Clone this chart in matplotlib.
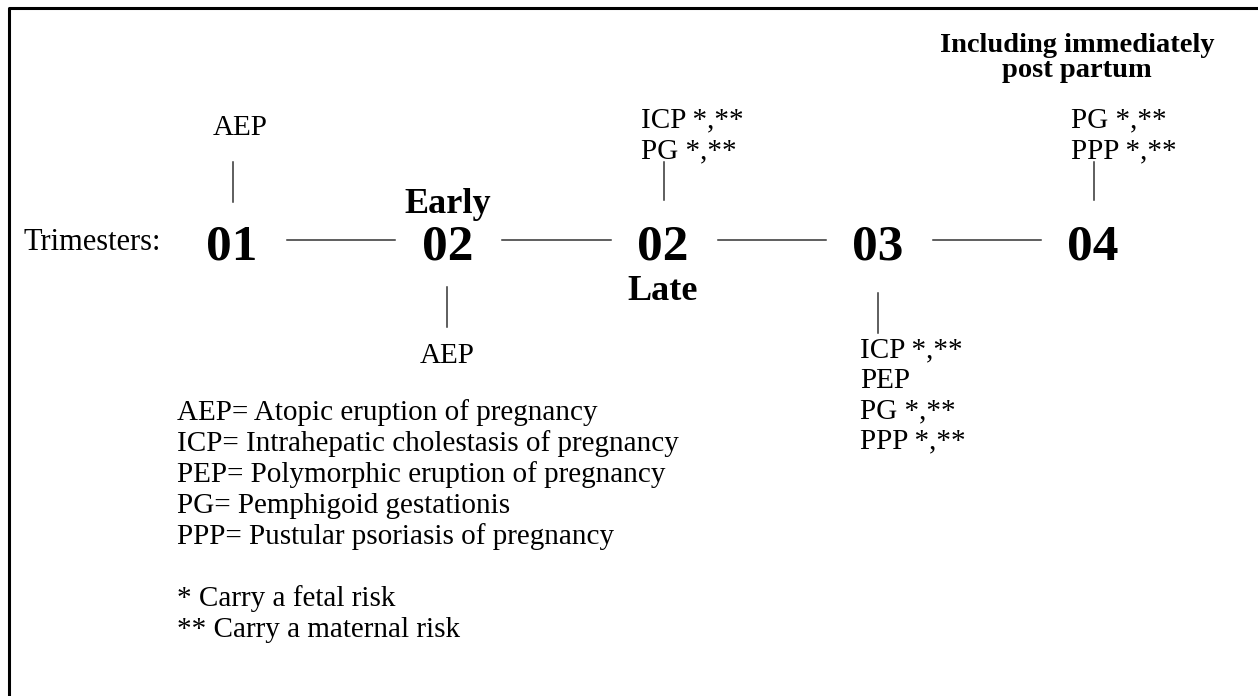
import matplotlib.pyplot as plt

plt.rcParams['font.family'] = ['Liberation Serif', 'DejaVu Serif']

# timeline nodes
nodes = ['01', '02', '02', '03', '04']
node_notes = ['', 'Early', 'Late', '', '']   # bold note above / below the node
above = [['AEP'], [], ['ICP *,**', 'PG *,**'], [], ['PG *,**', 'PPP *,**']]
below = [[], ['AEP'], [], ['ICP *,**', 'PEP', 'PG *,**', 'PPP *,**'], []]
header = ['Including immediately', 'post partum']

legend = ['AEP= Atopic eruption of pregnancy',
          'ICP= Intrahepatic cholestasis of pregnancy',
          'PEP= Polymorphic eruption of pregnancy',
          'PG= Pemphigoid gestationis',
          'PPP= Pustular psoriasis of pregnancy',
          '',
          '* Carry a fetal risk',
          '** Carry a maternal risk']

W, H = 1258, 696
fig = plt.figure(figsize=(W / 100, H / 100), dpi=100)
ax = fig.add_axes([0, 0, 1, 1])
ax.set_xlim(0, W)
ax.set_ylim(H, 0)
ax.axis('off')

# frame (only left and top edges are visible)
ax.plot([9, 9, W + 5], [H + 5, 8, 8], color='black', lw=2.2)

x0, dx = 232, 215.3
base = 259          # baseline of the big numbers
lh = 30.5
txt = dict(fontsize=21, color='black', va='baseline')
stem = dict(color='#333333', lw=1.1)

ax.text(23, 250, 'Trimesters:', ha='left', fontsize=22, va='baseline')

for i, lab in enumerate(nodes):
    x = x0 + i * dx
    ax.text(x, base, lab, ha='center', va='baseline', fontsize=37, fontweight='bold')
    if i < len(nodes) - 1:
        ax.plot([x + 55, x + dx - 52], [240, 240], **stem)

# notes on the 2nd trimester nodes
ax.text(x0 + dx, 213, node_notes[1], ha='center', va='baseline', fontsize=26, fontweight='bold')
ax.text(x0 + 2 * dx, 300, node_notes[2], ha='center', va='baseline', fontsize=26, fontweight='bold')

# entries above the timeline
for i, items in enumerate(above):
    if not items:
        continue
    x = x0 + i * dx
    if i == 0:
        ax.plot([x + 1, x + 1], [162, 202], **stem)
        ax.text(x + 8, 135, items[0], ha='center', **txt)
    else:
        ax.plot([x + 1, x + 1], [162, 200], **stem)
        for k, s in enumerate(items[::-1]):
            ax.text(x - 22, 158 - k * 31, s, ha='left', **txt)

# entries below the timeline
for i, items in enumerate(below):
    if not items:
        continue
    x = x0 + i * dx
    if len(items) == 1:
        ax.plot([x, x], [287, 327], **stem)
        ax.text(x, 363, items[0], ha='center', **txt)
    else:
        ax.plot([x, x], [293, 333], **stem)
        for k, s in enumerate(items):
            ax.text(x - 18, 357 + k * lh, s, ha='left', **txt)

for k, s in enumerate(header):
    ax.text(1077, 52 + k * 25, s, ha='center', va='baseline', fontsize=20.5,
            fontweight='bold')

for k, s in enumerate(legend):
    ax.text(177, 420 + k * 31, s, ha='left', **txt)

fig.savefig('out.png', dpi=100)
